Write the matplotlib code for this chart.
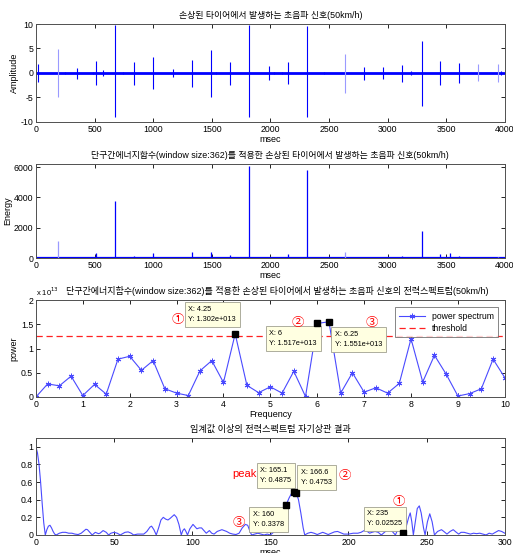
# -*- coding: utf-8 -*-
# tyre ultrasonic signal - 4 panel figure (matlab style)
import matplotlib
matplotlib.use('Agg')
import matplotlib.pyplot as plt
import numpy as np

plt.rcParams['font.family'] = ['Liberation Sans', 'Noto Sans CJK KR', 'DejaVu Sans']
plt.rcParams['font.size'] = 6.5
plt.rcParams['axes.unicode_minus'] = False

# panel 1 : raw signal spikes (msec, upper, lower)
sig_t  = [20, 185, 250, 350, 485, 510, 570, 675, 740, 840, 1000, 1170, 1330, 1495, 1540,
          1660, 1820, 1985, 2030, 2100, 2150, 2310, 2460, 2640, 2800, 2965, 3125, 3200,
          3290, 3450, 3610, 3775, 3940, 3965]
sig_hi = [1.8, 4.9, 0.3, 1.0, 0.3, 2.5, 0.7, 9.7, 0.3, 2.3, 3.3, 0.8, 2.6, 4.6, 0.3,
          2.3, 9.7, 1.5, 0.3, 0.3, 2.2, 9.6, 0.3, 3.9, 1.3, 1.2, 1.7, 0.5,
          6.5, 2.5, 2.1, 1.8, 1.9, 0.5]
sig_lo = [-1.8, -5.0, -0.3, -1.2, -0.3, -2.5, -0.7, -8.9, -0.3, -2.5, -3.3, -0.8, -2.8, -4.9, -0.3,
          -2.5, -9.0, -1.5, -0.3, -0.3, -2.3, -9.0, -0.3, -4.1, -1.4, -1.3, -1.8, -0.5,
          -6.8, -2.5, -2.1, -1.7, -1.9, -0.5]
faint_t = [185, 2640, 3775, 3940]

# panel 2 : short time energy
en_t = [185, 510, 675, 840, 1000, 1330, 1495, 1660, 1820, 2150, 2310, 2640, 3125, 3290, 3450, 3530, 3610, 3940]
en_v = [1150, 300, 3750, 150, 300, 380, 430, 200, 6050, 280, 5800, 420, 150, 1800, 270, 300, 150, 100]

# panel 3 : power spectrum (x 1e13)
freq = [0, 0.25, 0.5, 0.75, 1.0, 1.25, 1.5, 1.75, 2.0, 2.25, 2.5, 2.75, 3.0, 3.25, 3.5, 3.75,
        4.0, 4.25, 4.5, 4.75, 5.0, 5.25, 5.5, 5.75, 6.0, 6.25, 6.5, 6.75, 7.0, 7.25, 7.5, 7.75,
        8.0, 8.25, 8.5, 8.75, 9.0, 9.25, 9.5, 9.75, 10.0]
power = [0.0, 0.27, 0.23, 0.43, 0.03, 0.26, 0.06, 0.78, 0.84, 0.55, 0.75, 0.17, 0.08, 0.03, 0.54, 0.75,
         0.30, 1.302, 0.24, 0.09, 0.21, 0.08, 0.53, 0.01, 1.517, 1.551, 0.08, 0.50, 0.10, 0.19, 0.08, 0.28,
         1.20, 0.31, 0.86, 0.47, 0.02, 0.07, 0.17, 0.78, 0.40]
threshold = 1.25

# panel 4 : autocorrelation
lag = [0, 1, 2, 3, 4, 5, 6, 7, 8, 9, 10, 11, 12, 13, 15, 17, 19, 21, 23, 25, 27, 29, 31, 32, 33, 35, 36,
       38, 40, 41, 43, 45, 46.5, 48, 50, 52, 54, 55, 57, 59, 61, 62.5, 65, 69, 71, 73, 74, 75.5, 77,
       78.5, 80, 81.5, 83, 84.5, 86, 88.5, 90, 91.5, 93, 94, 95, 96, 97, 98.5, 100.5, 102, 103, 104.5,
       106, 107.5, 109, 111, 112.5, 114, 116, 119, 122, 124, 126, 128, 130, 132, 134, 135.5, 137, 138,
       140, 142, 144, 146, 148, 150, 152, 154, 156, 158, 160, 162, 163.5, 165.1, 166.6, 168, 169.5,
       171, 172, 174, 176, 178, 180, 182, 183.5, 185, 187, 189, 191, 193, 195, 197, 200, 203, 206,
       208, 210, 212, 213.5, 215, 217, 219, 221, 223, 225, 227, 229, 230, 231.5, 233, 235, 236, 237,
       238.5, 239.5, 240.5, 241.5, 242.5, 244, 245.3, 246.5, 248, 249, 250.5, 252, 253.5, 255, 257,
       259.5, 261, 263, 265, 267, 269, 270.5, 272, 274, 276, 278, 280, 282, 284, 286, 288, 290, 292,
       294, 296, 298, 300]
acor = [1.0, 0.93, 0.8, 0.6, 0.36, 0.14, 0.0, 0.06, 0.1, 0.11, 0.08, 0.04, 0.01, 0.0, 0.02, 0.03, 0.03,
        0.02, 0.02, 0.01, 0.005, 0.02, 0.05, 0.065, 0.06, 0.02, 0.0,
        0.03, 0.015, 0.02, 0.05, 0.03, 0.0, 0.02, 0.03, 0.02, 0.0, 0.01, 0.03, 0.035, 0.02, 0.0, 0.01,
        0.01, 0.04, 0.09, 0.1, 0.06, 0.0,
        0.08, 0.17, 0.2, 0.18, 0.17, 0.19, 0.23, 0.2, 0.12, 0.0, 0.05, 0.07, 0.04, 0.0, 0.07, 0.12, 0.09,
        0.07, 0.08,
        0.08, 0.05, 0.02, 0.05, 0.02, 0.01, 0.04, 0.06, 0.04, 0.02, 0.01, 0.005, 0.02, 0.08, 0.12, 0.11,
        0.04, 0.0,
        0.01, 0.02, 0.01, 0.0, 0.01, 0.0, 0.03, 0.06, 0.1, 0.2, 0.3378, 0.42, 0.47, 0.4875, 0.4753, 0.4,
        0.25,
        0.08, 0.0, 0.02, 0.03, 0.02, 0.005, 0.02, 0.03, 0.02, 0.005, 0.02, 0.035, 0.04, 0.025, 0.01, 0.01,
        0.02, 0.02,
        0.03, 0.05, 0.04, 0.02, 0.03, 0.04, 0.03, 0.0, 0.03, 0.06, 0.06, 0.02, 0.0, 0.06, 0.04, 0.02525,
        0.0, 0.1,
        0.2, 0.25, 0.15, 0.0, 0.12, 0.3, 0.33, 0.25, 0.08, 0.0, 0.15, 0.24, 0.15, 0.0, 0.04,
        0.06, 0.04, 0.01, 0.04, 0.06, 0.03, 0.01, 0.03, 0.03, 0.02, 0.01, 0.02, 0.015, 0.02, 0.01, 0.0,
        0.02, 0.01,
        0.03, 0.05, 0.04, 0.02]

tip3 = [4.25, 6, 6.25]
tip4 = [165.1, 166.6, 160, 235]

blue = '#0000ff'
lblue = '#4a4aff'
tipbox = dict(boxstyle='square,pad=0.5', fc='#ffffe1', ec='#a0a090', lw=0.6)


def matlab_axes(ax):
    ax.tick_params(direction='in', top=True, right=True, length=3, width=0.6, pad=2, labelsize=6.3)
    for s in ax.spines.values():
        s.set_color('#505050')
        s.set_linewidth(0.7)


def datatip(ax, x, y, txt):
    ax.text(x, y, txt, fontsize=5.3, va='top', bbox=tipbox, linespacing=1.6)


fig = plt.figure(figsize=(5.13, 5.53), dpi=100)
L, W = 0.070, 0.914

# ---- panel 1
ax1 = fig.add_axes([L, 0.7794, W, 0.1772])
ax1.plot([0, 4000], [0, 0], color=blue, lw=2.0)
for t, h, l in zip(sig_t, sig_hi, sig_lo):
    c = '#9a9aff' if t in faint_t else blue
    ax1.vlines(t, l, h, color=c, lw=0.8)
ax1.set_xlim(0, 4000)
ax1.set_ylim(-10, 10)
ax1.set_xticks(range(0, 4001, 500))
ax1.set_yticks([-10, -5, 0, 5, 10])
ax1.set_ylabel('Amplitude', labelpad=1)
ax1.set_xlabel('msec', labelpad=1)
ax1.set_title('손상된 타이어에서 발생하는 초음파 신호(50km/h)', fontsize=6.4, pad=4)
matlab_axes(ax1)

# ---- panel 2
ax2 = fig.add_axes([L, 0.5334, W, 0.170])
ax2.plot([0, 4000], [20, 20], color=blue, lw=1.6)
for t, v in zip(en_t, en_v):
    c = '#9a9aff' if t in faint_t else blue
    ax2.vlines(t, 0, v, color=c, lw=0.9)
ax2.set_xlim(0, 4000)
ax2.set_ylim(0, 6200)
ax2.set_xticks(range(0, 4001, 500))
ax2.set_yticks([0, 2000, 4000, 6000])
ax2.set_ylabel('Energy', labelpad=1)
ax2.set_xlabel('msec', labelpad=1)
ax2.set_title('단구간에너지함수(window size:362)를 적용한 손상된 타이어에서 발생하는 초음파 신호(50km/h)',
              fontsize=6.4, pad=4)
matlab_axes(ax2)

# ---- panel 3
ax3 = fig.add_axes([L, 0.2821, W, 0.1754])
ax3.plot(freq, power, color=lblue, lw=0.8, marker=(6, 2, 0), ms=4, mew=0.7, label='power spectrum')
ax3.axhline(threshold, color='#ff2020', ls=(0, (5, 3)), lw=0.9, label='threshold')
for x in tip3:
    ax3.plot(x, power[freq.index(x)], 's', color='k', ms=4, zorder=5)
ax3.set_xlim(0, 10)
ax3.set_ylim(0, 2)
ax3.set_xticks(range(0, 11))
ax3.set_yticks([0, 0.5, 1, 1.5, 2])
ax3.set_yticklabels(['0', '0.5', '1', '1.5', '2'])
ax3.set_ylabel('power', labelpad=2)
ax3.set_xlabel('Frequency', labelpad=1)
ax3.set_title('단구간에너지함수(window size:362)를 적용한 손상된 타이어에서 발생하는 초음파 신호의 전력스펙트럼(50km/h)',
              fontsize=6.5, pad=4, x=0.515)
ax3.text(0.0, 1.02, 'x 10$^{13}$', transform=ax3.transAxes, fontsize=5.5, ha='left', va='bottom')
matlab_axes(ax3)
leg = ax3.legend(loc='upper right', fontsize=6.2, frameon=True, fancybox=False, edgecolor='#505050',
                 handlelength=3, borderpad=0.5, labelspacing=0.4, bbox_to_anchor=(0.995, 0.97))
leg.get_frame().set_linewidth(0.6)
datatip(ax3, 3.25, 1.88, 'X: 4.25\nY: 1.302e+013')
datatip(ax3, 4.98, 1.38, 'X: 6\nY: 1.517e+013')
datatip(ax3, 6.38, 1.36, 'X: 6.25\nY: 1.551e+013')
ax3.text(3.03, 1.58, '①', color='red', fontsize=9, ha='center', va='center')
ax3.text(5.59, 1.52, '②', color='red', fontsize=9, ha='center', va='center')
ax3.text(7.16, 1.52, '③', color='red', fontsize=9, ha='center', va='center')

# ---- panel 4
ax4 = fig.add_axes([L, 0.0326, W, 0.1754])
ax4.plot(lag, acor, color=lblue, lw=0.8)
for x in tip4:
    ax4.plot(x, acor[lag.index(x)], 's', color='k', ms=4, zorder=5)
ax4.set_xlim(0, 300)
ax4.set_ylim(0, 1.1)
ax4.set_xticks(range(0, 301, 50))
ax4.set_yticks([0, 0.2, 0.4, 0.6, 0.8, 1])
ax4.set_yticklabels(['0', '0.2', '0.4', '0.6', '0.8', '1'])
ax4.set_xlabel('msec', labelpad=1)
ax4.set_title('임계값 이상의 전력스펙트럼 자기상관 결과', fontsize=6.6, pad=4)
matlab_axes(ax4)
ax4.text(125.4, 0.69, 'peak', color='red', fontsize=8, va='center')
datatip(ax4, 143.5, 0.77, 'X: 165.1\nY: 0.4875')
datatip(ax4, 169.5, 0.75, 'X: 166.6\nY: 0.4753')
datatip(ax4, 139, 0.27, 'X: 160\nY: 0.3378')
datatip(ax4, 212, 0.28, 'X: 235\nY: 0.02525')
ax4.text(198, 0.67, '②', color='red', fontsize=9, ha='center', va='center')
ax4.text(130, 0.14, '③', color='red', fontsize=9, ha='center', va='center')
ax4.text(232, 0.37, '①', color='red', fontsize=9, ha='center', va='center')

fig.savefig('out.png', dpi=100)
